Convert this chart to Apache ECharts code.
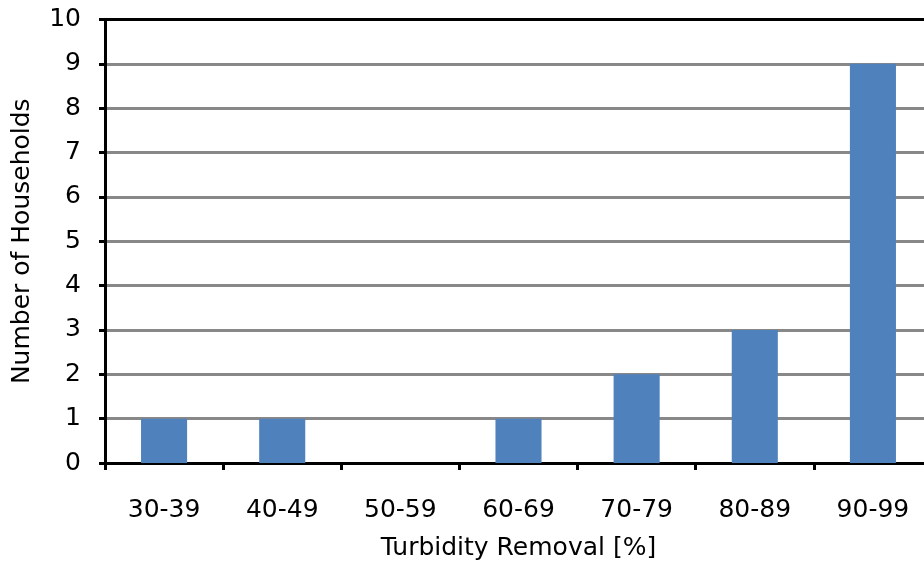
<!DOCTYPE html>
<html><head><meta charset="utf-8">
<script src="https://cdn.jsdelivr.net/npm/echarts@6/dist/echarts.min.js"></script>
<style>html,body{margin:0;padding:0;background:#fff}#c{width:924px;height:565px}</style>
</head><body><div id="c"></div>
<script>
var categories = ["30-39","40-49","50-59","60-69","70-79","80-89","90-99"];
var households = [1,1,0,1,2,3,9];
var yTicks = [0,1,2,3,4,5,6,7,8,9,10];

var chart = echarts.init(document.getElementById('c'));
var font = 'DejaVu Sans, sans-serif';
chart.setOption({
  animation: false,
  grid: {left: 105, top: 19.5, width: 827, height: 443.5, containLabel: false, outerBoundsMode: 'none'},
  xAxis: [{
    type: 'category', data: categories,
    name: 'Turbidity Removal [%]', nameLocation: 'middle', nameGap: 73,
    nameTextStyle: {fontSize: 25, color: '#000', fontFamily: font},
    axisLine: {lineStyle: {color: '#000', width: 3}},
    axisTick: {show: true, length: 7, lineStyle: {color: '#000', width: 3}},
    axisLabel: {fontSize: 25, color: '#000', fontFamily: font, margin: 35},
    splitLine: {show: false}
  }, {
    type: 'category', data: categories, position: 'top',
    axisLine: {lineStyle: {color: '#000', width: 3}},
    axisTick: {show: false}, axisLabel: {show: false}
  }],
  yAxis: {
    type: 'value', min: 0, max: 10, interval: 1,
    name: 'Number of Households', nameLocation: 'middle', nameGap: 70,
    nameTextStyle: {fontSize: 25, color: '#000', fontFamily: font},
    axisLine: {show: true, lineStyle: {color: '#000', width: 3}},
    axisTick: {show: true, length: 6, lineStyle: {color: '#000', width: 3}},
    axisLabel: {fontSize: 25, color: '#000', fontFamily: font, margin: 24,
      formatter: function(v){ return yTicks.indexOf(v) >= 0 ? String(v) : ''; }},
    splitLine: {show: true, lineStyle: {color: '#888', width: 3}}
  },
  series: [{
    type: 'bar', data: households, barWidth: '39%', xAxisIndex: 0,
    itemStyle: {color: '#4F81BD'}
  }]
});
</script></body></html>
